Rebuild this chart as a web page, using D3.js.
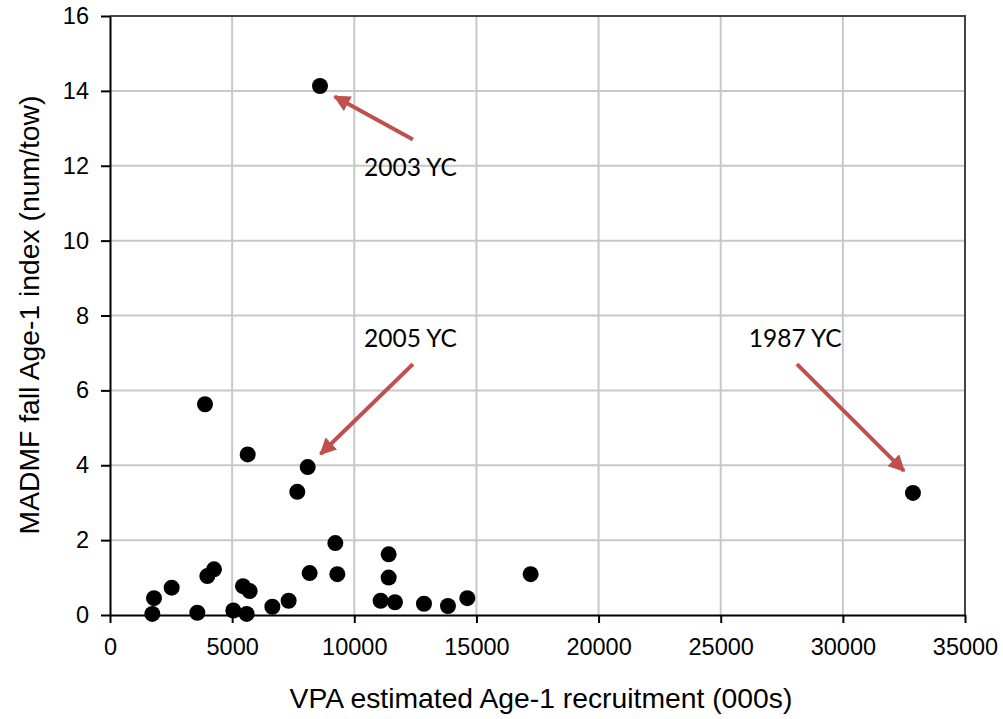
<!DOCTYPE html>
<html><head><meta charset="utf-8">
<script src="https://cdn.jsdelivr.net/npm/d3@7"></script>
<style>body{margin:0;background:#fff}svg{display:block}</style>
</head><body>
<svg id="c" width="1003" height="719"></svg>
<script>
// Data (VPA estimated Age-1 recruitment (000s), MADMF fall Age-1 index)
const recruitment = [3889, 5636, 8092, 7667, 9224, 11407, 11407, 8173, 9306, 11079, 11666, 7313, 6646, 5444, 5718, 5048, 5594, 3575, 4257, 3984, 2525, 1801, 1733, 12853, 13835, 14627, 17220, 8596, 32870];
const indexVals   = [5.63, 4.29, 3.95, 3.29, 1.92, 1.62, 1.00, 1.12, 1.09, 0.38, 0.34, 0.38, 0.22, 0.77, 0.64, 0.12, 0.03, 0.06, 1.22, 1.04, 0.73, 0.45, 0.03, 0.30, 0.24, 0.45, 1.09, 14.13, 3.26];
const xTicks = [0, 5000, 10000, 15000, 20000, 25000, 30000, 35000];
const yTicks = [0, 2, 4, 6, 8, 10, 12, 14, 16];
const annLabels = ["2003 YC", "2005 YC", "1987 YC"];
// annotation label anchors, arrow tails and arrow tips (data coords)
const annText   = [[12300, 11.72], [12300, 7.16], [28050, 7.16]];
const annFrom   = [[12400, 12.7], [12400, 6.7], [28120, 6.7]];
const annTo     = [[9200, 13.85], [8620, 4.3], [32500, 3.85]];

const svg = d3.select("#c");
const L = 110, R = 965, T = 16, B = 615;
const x = d3.scaleLinear().domain([0, 35000]).range([L, R]);
const y = d3.scaleLinear().domain([0, 16]).range([B, T]);
const sans = "Liberation Sans, Arial, sans-serif";

// gridlines
svg.append("g").selectAll("line").data(yTicks.slice(1)).join("line")
  .attr("x1", L).attr("x2", R).attr("y1", d => y(d)).attr("y2", d => y(d))
  .attr("stroke", "#c8c8c8").attr("stroke-width", 2);
svg.append("g").selectAll("line").data(xTicks.slice(1)).join("line")
  .attr("y1", T).attr("y2", B).attr("x1", d => x(d)).attr("x2", d => x(d))
  .attr("stroke", "#c8c8c8").attr("stroke-width", 2);
// top/right border
svg.append("path").attr("d", `M${L},${T}H${R}V${B}`).attr("fill", "none")
  .attr("stroke", "#444").attr("stroke-width", 2);

// axes
const xa = svg.append("g").attr("transform", `translate(0,${B})`)
  .call(d3.axisBottom(x).tickValues(xTicks).tickFormat(d3.format("d")).tickSizeOuter(0).tickSizeInner(8).tickPadding(18));
const ya = svg.append("g").attr("transform", `translate(${L},0)`)
  .call(d3.axisLeft(y).tickValues(yTicks).tickFormat(d3.format("d")).tickSizeOuter(0).tickSizeInner(9).tickPadding(12));
[xa, ya].forEach(a => {
  a.select(".domain").attr("stroke", "#000").attr("stroke-width", 2);
  a.selectAll(".tick line").attr("stroke", "#000").attr("stroke-width", 2);
  a.selectAll("text").attr("font-family", sans).attr("font-size", 23.5).attr("fill", "#000");
});
xa.selectAll("text").attr("dy", "0.58em");

// axis titles
svg.append("text").attr("x", 541).attr("y", 708).attr("text-anchor", "middle")
  .attr("font-family", sans).attr("font-size", 28.3).text("VPA estimated Age-1 recruitment (000s)");
svg.append("text").attr("transform", `translate(39,315) rotate(-90)`).attr("text-anchor", "middle")
  .attr("font-family", sans).attr("font-size", 28.3).text("MADMF fall Age-1 index (num/tow)");

// points
svg.append("g").selectAll("circle").data(recruitment).join("circle")
  .attr("cx", d => x(d)).attr("cy", (d, i) => y(indexVals[i])).attr("r", 8).attr("fill", "#000");

// arrows
const defs = svg.append("defs");
defs.append("marker").attr("id", "ah").attr("viewBox", "0 0 10 10").attr("refX", 9).attr("refY", 5)
  .attr("markerWidth", 4.2).attr("markerHeight", 4.2).attr("orient", "auto")
  .append("path").attr("d", "M0,0L10,5L0,10z").attr("fill", "#c0504d");
svg.append("g").selectAll("line").data(annFrom).join("line")
  .attr("x1", d => x(d[0])).attr("y1", d => y(d[1]))
  .attr("x2", (d, i) => x(annTo[i][0])).attr("y2", (d, i) => y(annTo[i][1]))
  .attr("stroke", "#c0504d").attr("stroke-width", 4).attr("marker-end", "url(#ah)");
svg.append("g").selectAll("text").data(annLabels).join("text")
  .attr("x", (d, i) => x(annText[i][0])).attr("y", (d, i) => y(annText[i][1]))
  .attr("text-anchor", "middle").attr("font-family", "Lato, sans-serif").attr("font-size", 24.5).attr("fill", "#000")
  .text(d => d);
</script>
</body></html>
